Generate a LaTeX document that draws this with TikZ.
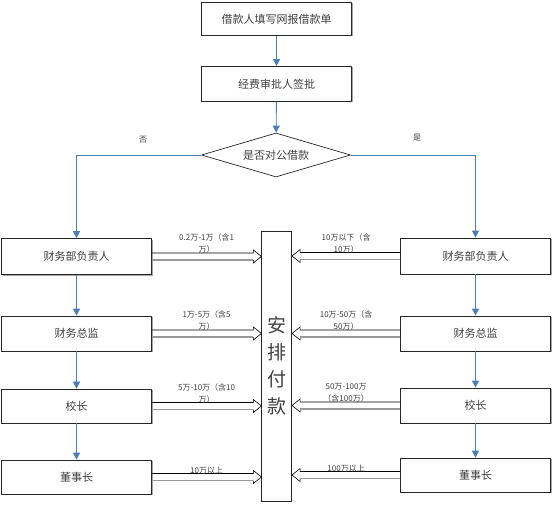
\documentclass[tikz,border=0pt]{standalone}
\usepackage{fontspec}
\setmainfont{Noto Sans CJK SC}
\usetikzlibrary{arrows.meta,shadows,shapes.geometric,calc,positioning}
\definecolor{flowblue}{HTML}{4A7EBB}
\definecolor{txt}{HTML}{404040}
\newcommand\rblock[2]{%
  \draw[line width=0.6pt, black] let \p1=(#1), \p2=(#2) in
    (\x1,\y1+3.5pt) -- (\x2-8pt,\y1+3.5pt) -- (\x2-8pt,\y1+6.5pt) -- (\x2,\y1)
    -- (\x2-8pt,\y1-6.5pt) -- (\x2-8pt,\y1-3.5pt);
  \draw[line width=1.3pt, black!40] let \p1=(#1), \p2=(#2) in
    (\x1,\y1-3.5pt) -- (\x2-8pt,\y1-3.5pt);
}
\newcommand\lblock[2]{%
  \draw[line width=0.6pt, black] let \p1=(#1), \p2=(#2) in
    (\x1,\y1+3.5pt) -- (\x2+8pt,\y1+3.5pt) -- (\x2+8pt,\y1+6.5pt) -- (\x2,\y1)
    -- (\x2+8pt,\y1-6.5pt) -- (\x2+8pt,\y1-3.5pt);
  \draw[line width=1.3pt, black!40] let \p1=(#1), \p2=(#2) in
    (\x1,\y1-3.5pt) -- (\x2+8pt,\y1-3.5pt);
}
\begin{document}
\begin{tikzpicture}[x=1pt,y=-1pt,
  box/.style={draw=black!85, line width=0.7pt, fill=white, minimum width=150pt,
    inner sep=0pt, font=\fontsize{11}{13}\selectfont, text=txt,
    drop shadow={shadow xshift=1pt,shadow yshift=-1pt,fill=black!35,opacity=1}},
  flow/.style={draw=flowblue, line width=0.9pt, -{Triangle[length=7pt,width=7pt]}},
  lab/.style={font=\fontsize{8}{12}\selectfont, text=txt, align=center, inner sep=0pt},
]
\useasboundingbox (0,0) rectangle (554,505);

\node[box, minimum height=33pt] (top) at (276.5,19) {借款人填写网报借款单};
\node[box, minimum height=35pt] (app) at (276.5,84) {经费审批人签批};
\node[draw=black!85, line width=0.7pt, fill=white, diamond, aspect=3.4, inner sep=0pt,
  minimum width=149pt, minimum height=44pt, font=\fontsize{11}{13}\selectfont, text=txt]
  (dec) at (276,155) {是否对公借款};

\node[box, minimum height=36pt] (L1) at (76.5,256.5) {财务部负责人};
\node[box, minimum height=35pt] (L2) at (76.5,333.5) {财务总监};
\node[box, minimum height=34pt] (L3) at (76.5,406) {校长};
\node[box, minimum height=34pt] (L4) at (76.5,477) {董事长};

\node[box, minimum height=36pt] (R1) at (475.5,256) {财务部负责人};
\node[box, minimum height=35pt] (R2) at (475.5,333.5) {财务总监};
\node[box, minimum height=35pt] (R3) at (475.5,405.5) {校长};
\node[box, minimum height=34pt] (R4) at (475.5,475) {董事长};

\node[draw=black!85, line width=0.7pt, fill=white, minimum width=30pt, minimum height=270pt,
  inner sep=0pt, align=center, font=\fontsize{19}{27}\selectfont, text=txt]
  (pay) at (276.7,366) {安\\排\\付\\款};

\draw[flow] (top) -- (app);
\draw[flow] (app) -- (dec);
\draw[flow] (dec.west) -| (L1.north);
\draw[flow] (dec.east) -| (R1.north);
\draw[flow] (L1) -- (L2);
\draw[flow] (L2) -- (L3);
\draw[flow] (L3) -- (L4);
\draw[flow] (R1) -- (R2);
\draw[flow] (R2) -- (R3);
\draw[flow] (R3) -- (R4);

\node[lab] (no) at (143,140) {否};
\node[lab] (yes) at (417,138) {是};

\rblock{L1.east}{pay.west |- L1.east}
\rblock{L2.east}{pay.west |- L2.east}
\rblock{L3.east}{pay.west |- L3.east}
\rblock{L4.east}{pay.west |- L4.east}
\lblock{R1.west}{pay.east |- R1.west}
\lblock{R2.west}{pay.east |- R2.west}
\lblock{R3.west}{pay.east |- R3.west}
\lblock{R4.west}{pay.east |- R4.west}

\node[lab, above=3pt] (la1) at ($(L1.east)!0.5!(pay.west |- L1.east)$) {0.2万-1万（含1\\万）};
\node[lab, above=3pt] (la2) at ($(L2.east)!0.5!(pay.west |- L2.east)$) {1万-5万（含5\\万）};
\node[lab, above=3pt] (la3) at ($(L3.east)!0.5!(pay.west |- L3.east)$) {5万-10万（含10\\万）};
\node[lab, above=3pt] (la4) at ($(L4.east)!0.5!(pay.west |- L4.east)$) {10万以上};
\node[lab, above=3pt] (ra1) at ($(R1.west)!0.5!(pay.east |- R1.west)$) {10万以下（含\\10万）};
\node[lab, above=3pt] (ra2) at ($(R2.west)!0.5!(pay.east |- R2.west)$) {10万-50万（含\\50万）};
\node[lab, above=3pt] (ra3) at ($(R3.west)!0.5!(pay.east |- R3.west)$) {50万-100万\\（含100万）};
\node[lab, above=3pt] (ra4) at ($(R4.west)!0.5!(pay.east |- R4.west)$) {100万以上};
\end{tikzpicture}
\end{document}
